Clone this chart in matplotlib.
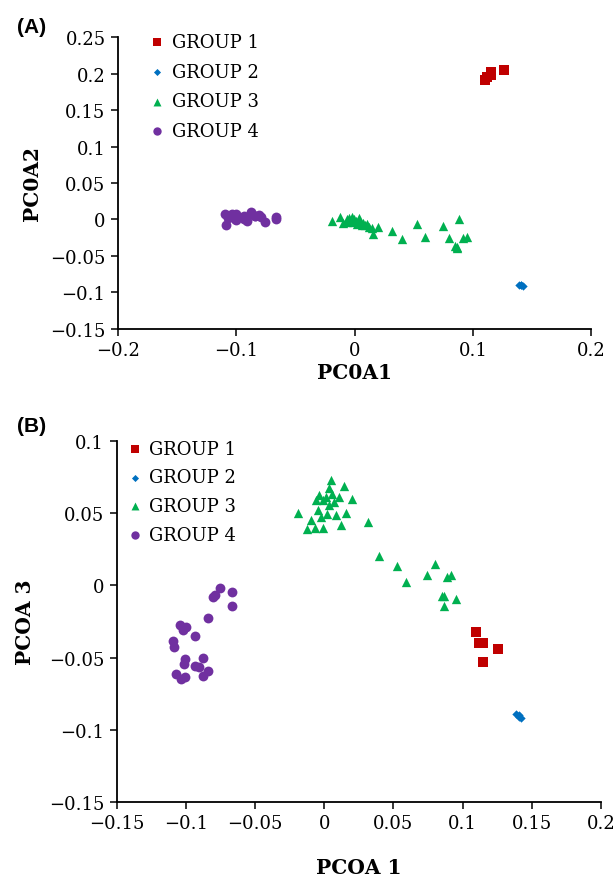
import numpy as np
import matplotlib
matplotlib.use("Agg")
import matplotlib.pyplot as plt

# PCoA scores (PCOA1 shared, PCOA2 for panel A, PCOA3 for panel B)
group_names = ["GROUP 1", "GROUP 2", "GROUP 3", "GROUP 4"]

g1_pc1 = [0.110, 0.112, 0.115, 0.126, 0.115]
g1_pc2 = [0.191, 0.196, 0.203, 0.205, 0.198]
g1_pc3 = [-0.032, -0.040, -0.040, -0.044, -0.053]

g2_pc1 = [0.139, 0.1405, 0.141, 0.142]
g2_pc2 = [-0.0895, -0.090, -0.0905, -0.091]
g2_pc3 = [-0.089, -0.090, -0.091, -0.092]

g3_pc1 = [-0.0188, -0.0121, -0.0096, -0.0065, -0.006, -0.0048, -0.0036, -0.0024,
          -0.0012, -0.0007, 0.0012, 0.0024, 0.0036, 0.0036, 0.0048, 0.006, 0.0072,
          0.0085, 0.0108, 0.0121, 0.0145, 0.0157, 0.020, 0.032, 0.0397, 0.053,
          0.0595, 0.0746, 0.0802, 0.0887, 0.092, 0.085, 0.0867, 0.0867, 0.095]
g3_pc2 = [-0.0026, 0.0039, -0.005, -0.003, 0.001, 0.002, -0.002, 0.003,
          -0.004, 0.0, -0.002, -0.006, 0.002, -0.004, -0.003, -0.007, -0.005,
          -0.008, -0.006, -0.010, -0.012, -0.020, -0.010, -0.0165, -0.027, -0.0062,
          -0.0238, -0.0096, -0.0256, 0.0007, -0.0256, -0.0363, -0.0395, -0.038, -0.024]
g3_pc3 = [0.0504, 0.0395, 0.0457, 0.0399, 0.0592, 0.0522, 0.0627, 0.0476,
          0.0592, 0.0402, 0.0615, 0.0499, 0.0673, 0.0557, 0.0731, 0.0638, 0.058,
          0.0487, 0.0615, 0.0418, 0.0689, 0.0504, 0.0597, 0.0441, 0.0202, 0.0134,
          0.0023, 0.007, 0.0151, 0.0058, 0.0075, -0.0075, -0.0075, -0.0139, -0.0095]

g4_pc1 = [-0.0754, -0.0667, -0.0807, -0.0788, -0.0663, -0.0840, -0.1043, -0.0999,
          -0.1019, -0.0934, -0.1096, -0.1084, -0.1004, -0.1012, -0.0879, -0.0932,
          -0.0908, -0.0843, -0.0879, -0.1072, -0.1035, -0.1004]
g4_pc2 = [-0.004, 0.003, 0.006, 0.003, 0.0007, 0.005, 0.006, 0.007,
          0.003, 0.004, 0.008, -0.008, 0.002, 0.0, 0.0098, 0.001,
          -0.002, 0.004, 0.007, 0.002, 0.008, -0.001]
g4_pc3 = [-0.0016, -0.0042, -0.0077, -0.0063, -0.0141, -0.0228, -0.0274, -0.0286,
          -0.0309, -0.0350, -0.0383, -0.0430, -0.0511, -0.0545, -0.0504, -0.0557,
          -0.0564, -0.0592, -0.0629, -0.0611, -0.0650, -0.0634]

colors = ["#C00000", "#0070C0", "#00B050", "#7030A0"]
markers = ["s", "D", "^", "o"]
sizes = [45, 18, 45, 50]

plt.rcParams["font.family"] = ["DejaVu Serif"]

fig = plt.figure(figsize=(6.16, 8.78), dpi=100)
axA = fig.add_axes([0.1916, 0.6245, 0.768, 0.3319])
axB = fig.add_axes([0.1894, 0.0858, 0.786, 0.4104])

xs = [g1_pc1, g2_pc1, g3_pc1, g4_pc1]
ysA = [g1_pc2, g2_pc2, g3_pc2, g4_pc2]
ysB = [g1_pc3, g2_pc3, g3_pc3, g4_pc3]


def style(ax):
    for s in ["top", "right"]:
        ax.spines[s].set_visible(False)
    for s in ["left", "bottom"]:
        ax.spines[s].set_linewidth(1.3)
    ax.tick_params(direction="out", length=5, width=1.1, labelsize=13, pad=4)


for i in range(4):
    axA.scatter(xs[i], ysA[i], s=sizes[i], marker=markers[i], c=colors[i],
                linewidths=0, label=group_names[i], zorder=3)
    axB.scatter(xs[i], ysB[i], s=sizes[i], marker=markers[i], c=colors[i],
                linewidths=0, label=group_names[i], zorder=3)

# panel A
axA.set_xlim(-0.2, 0.2)
axA.set_ylim(-0.15, 0.25)
axA.set_xticks([-0.2, -0.1, 0, 0.1, 0.2])
axA.set_xticklabels(["\u22120.2", "\u22120.1", "0", "0.1", "0.2"])
axA.set_yticks([-0.15, -0.1, -0.05, 0, 0.05, 0.1, 0.15, 0.2, 0.25])
axA.set_yticklabels(["\u22120.15", "\u22120.1", "\u22120.05", "0", "0.05", "0.1", "0.15", "0.2", "0.25"])
style(axA)
axA.set_xlabel("PC0A1", fontsize=14.5, fontweight="bold", labelpad=2)
axA.set_ylabel("PC0A2", fontsize=14.5, fontweight="bold", labelpad=6)
axA.legend(loc="upper left", bbox_to_anchor=(0.045, 1.04), frameon=False,
           fontsize=13, handletextpad=0.2, labelspacing=0.65, borderaxespad=0,
           handlelength=1.2, markerscale=0.85)

# panel B
axB.set_xlim(-0.15, 0.2)
axB.set_ylim(-0.15, 0.1)
axB.set_xticks([-0.15, -0.1, -0.05, 0, 0.05, 0.1, 0.15, 0.2])
axB.set_xticklabels(["\u22120.15", "\u22120.1", "\u22120.05", "0", "0.05", "0.1", "0.15", "0.2"])
axB.set_yticks([-0.15, -0.1, -0.05, 0, 0.05, 0.1])
axB.set_yticklabels(["\u22120.15", "\u22120.1", "\u22120.05", "0", "0.05", "0.1"])
style(axB)
axB.set_xlabel("PCOA 1", fontsize=14.5, fontweight="bold", labelpad=18)
axB.set_ylabel("PCOA 3", fontsize=14.5, fontweight="bold", labelpad=10)
axB.legend(loc="upper left", bbox_to_anchor=(0.0, 1.025), frameon=False,
           fontsize=13, handletextpad=0.2, labelspacing=0.6, borderaxespad=0,
           handlelength=1.2, markerscale=0.85)

fig.text(0.028, 0.962, "(A)", fontsize=15, fontweight="bold", family="Liberation Sans")
fig.text(0.028, 0.508, "(B)", fontsize=15, fontweight="bold", family="Liberation Sans")

fig.savefig("out.png", dpi=100)
